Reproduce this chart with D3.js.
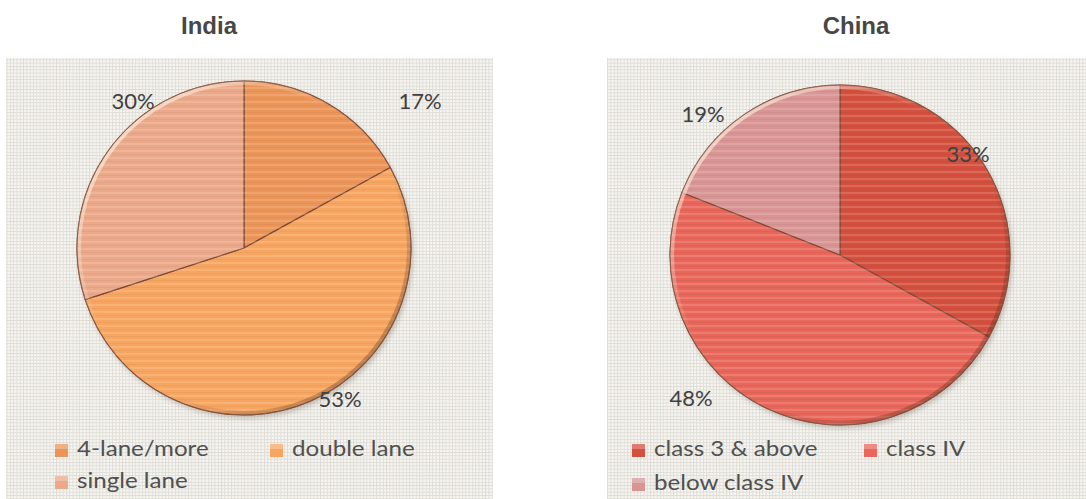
<!DOCTYPE html>
<html>
<head>
<meta charset="utf-8">
<script src="https://cdn.jsdelivr.net/npm/d3@7/dist/d3.min.js"></script>
<style>
  html, body { margin: 0; padding: 0; background: #ffffff; }
  svg { display: block; }
</style>
</head>
<body>
<svg id="chart" width="1086" height="499"></svg>
<script>
// Road network composition by lane / class type
const indiaCategories = ["4-lane/more", "double lane", "single lane"];
const indiaValues = [17, 53, 30];
const indiaColors = ["#EC9558", "#F7A560", "#EBA98A"];

const chinaCategories = ["class 3 & above", "class IV", "below class IV"];
const chinaValues = [33, 48, 19];
const chinaColors = ["#D4503E", "#E8665A", "#D99594"];

const titles = ["India", "China"];

const svg = d3.select("#chart");
const defs = svg.append("defs");

// Fine grid texture for the plot panels
const grid = defs.append("pattern")
  .attr("id", "grid").attr("width", 3.3).attr("height", 3.3)
  .attr("patternUnits", "userSpaceOnUse");
grid.append("rect").attr("width", 3.3).attr("height", 3.3).attr("fill", "#dedcd5");
grid.append("rect").attr("x", 0.9).attr("y", 0.9).attr("width", 2.4).attr("height", 2.4).attr("fill", "#f7f6f2");

// Horizontal streaks across the slices
const stripes = defs.append("pattern")
  .attr("id", "stripes").attr("width", 8).attr("height", 7)
  .attr("patternUnits", "userSpaceOnUse");
stripes.append("rect").attr("y", 0).attr("width", 8).attr("height", 2).attr("fill", "#ffffff").attr("opacity", 0.14);
stripes.append("rect").attr("y", 4).attr("width", 8).attr("height", 1).attr("fill", "#000000").attr("opacity", 0.04);

// Rim lighting: pale upper-left edge, darker lower-right edge
const rimShade = defs.append("linearGradient")
  .attr("id", "rimShade").attr("x1", "0%").attr("y1", "0%").attr("x2", "100%").attr("y2", "100%");
rimShade.append("stop").attr("offset", "0%").attr("stop-color", "#fff6e6").attr("stop-opacity", 0.95);
rimShade.append("stop").attr("offset", "40%").attr("stop-color", "#fff6e6").attr("stop-opacity", 0.0);
rimShade.append("stop").attr("offset", "62%").attr("stop-color", "#000000").attr("stop-opacity", 0.0);
rimShade.append("stop").attr("offset", "100%").attr("stop-color", "#5a2a10").attr("stop-opacity", 0.45);

const shadowBlur = defs.append("filter").attr("id", "soft")
  .attr("x", "-10%").attr("y", "-10%").attr("width", "120%").attr("height", "120%");
shadowBlur.append("feGaussianBlur").attr("stdDeviation", 2.5);

const charts = [
  {
    title: titles[0], cats: indiaCategories, vals: indiaValues, colors: indiaColors,
    panel: [6, 58, 487, 441], titleXY: [209, 34], cx: 244, cy: 248, r: 167,
    labels: [[420, 109], [340, 407], [133, 109]],
    legend: [[55, 444], [270, 444], [55, 476]]
  },
  {
    title: titles[1], cats: chinaCategories, vals: chinaValues, colors: chinaColors,
    panel: [607, 58, 479, 441], titleXY: [856, 34], cx: 840, cy: 255, r: 170,
    labels: [[968, 162], [691, 406], [703, 122]],
    legend: [[632, 444], [864, 444], [632, 478]]
  }
];

const pie = d3.pie().sort(null).value(d => d);
const labelFont = "Lato, 'Open Sans', sans-serif";

charts.forEach((c) => {
  const g = svg.append("g");

  g.append("rect")
    .attr("x", c.panel[0]).attr("y", c.panel[1])
    .attr("width", c.panel[2]).attr("height", c.panel[3])
    .attr("fill", "url(#grid)");

  g.append("text")
    .attr("x", c.titleXY[0]).attr("y", c.titleXY[1])
    .attr("text-anchor", "middle")
    .attr("font-family", "'Liberation Sans', Arial, sans-serif")
    .attr("font-weight", "bold")
    .attr("font-size", 24)
    .attr("fill", "#474747")
    .text(c.title);

  const arc = d3.arc().innerRadius(0).outerRadius(c.r);
  const arcs = pie(c.vals);
  const pg = g.append("g").attr("transform", `translate(${c.cx},${c.cy})`);

  // soft shadow under the disc
  pg.append("circle").attr("cx", 2).attr("cy", 3).attr("r", c.r)
    .attr("fill", "#6a5a50").attr("opacity", 0.35).attr("filter", "url(#soft)");

  pg.selectAll("path.slice").data(arcs).join("path")
    .attr("class", "slice")
    .attr("d", arc)
    .attr("fill", (d, i) => c.colors[i])
    .attr("stroke", "#7d4a35").attr("stroke-width", 1.1).attr("stroke-linejoin", "round");

  pg.selectAll("path.streak").data(arcs).join("path")
    .attr("class", "streak")
    .attr("d", arc)
    .attr("fill", "url(#stripes)");

  pg.append("circle").attr("r", c.r - 2).attr("fill", "none")
    .attr("stroke", "url(#rimShade)").attr("stroke-width", 4);
  pg.append("circle").attr("r", c.r).attr("fill", "none")
    .attr("stroke", "#8a5a45").attr("stroke-width", 1).attr("opacity", 0.7);

  // percentage labels
  g.selectAll("text.pct").data(arcs).join("text")
    .attr("class", "pct")
    .attr("x", (d, i) => c.labels[i][0]).attr("y", (d, i) => c.labels[i][1])
    .attr("text-anchor", "middle")
    .attr("font-family", labelFont)
    .attr("font-size", 22)
    .attr("fill", "#404040")
    .text(d => d.data + "%");

  // legend
  const lg = g.selectAll("g.leg").data(c.cats).join("g")
    .attr("class", "leg")
    .attr("transform", (d, i) => `translate(${c.legend[i][0]},${c.legend[i][1]})`);
  lg.append("rect").attr("x", 0).attr("y", 0).attr("width", 13).attr("height", 13)
    .attr("fill", (d, i) => c.colors[i]);
  lg.append("rect").attr("x", 0).attr("y", 0).attr("width", 13).attr("height", 5)
    .attr("fill", "#fff").attr("opacity", 0.25);
  lg.append("text")
    .attr("transform", "translate(22,12) scale(1.15,1)")
    .attr("font-family", labelFont)
    .attr("font-size", 21)
    .attr("fill", "#505050")
    .text(d => d);
});
</script>
</body>
</html>
